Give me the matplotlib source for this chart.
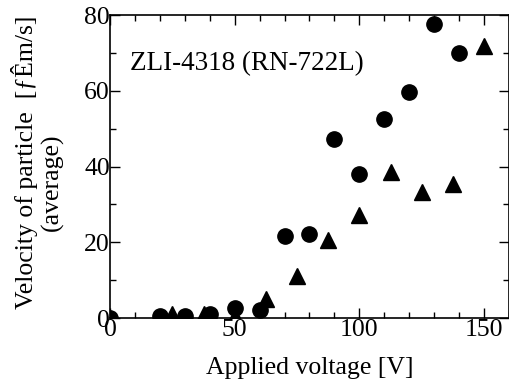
import matplotlib
matplotlib.use("Agg")
import matplotlib.pyplot as plt
from matplotlib.ticker import MultipleLocator

plt.rcParams["font.family"] = ["Liberation Serif", "DejaVu Serif"]

# circles
volt_circ = [0, 20, 30, 40, 50, 60, 70, 80, 90, 100, 110, 120, 130, 140]
vel_circ = [0, 0.6, 0.6, 1.1, 2.6, 2.2, 21.6, 22.2, 47.2, 37.9, 52.5, 59.7, 77.6, 70.1]

# triangles
volt_tri = [0, 25, 37.5, 50, 62.5, 75, 87.5, 100, 112.5, 125, 137.5, 150]
vel_tri = [0, 1.0, 1.0, 0.4, 5.0, 11.0, 20.5, 27.3, 38.5, 33.2, 35.5, 71.9]

fig = plt.figure(figsize=(5.1, 3.83), dpi=100)
ax = fig.add_axes([0.2157, 0.1697, 0.7823, 0.7911])

ax.plot(volt_tri, vel_tri, linestyle="none", marker="^", markersize=11, color="black")
ax.plot(volt_circ, vel_circ, linestyle="none", marker="o", markersize=11, color="black")

ax.set_xlim(0, 160)
ax.set_ylim(0, 80)
ax.xaxis.set_major_locator(MultipleLocator(50))
ax.xaxis.set_minor_locator(MultipleLocator(10))
ax.yaxis.set_major_locator(MultipleLocator(20))
ax.yaxis.set_minor_locator(MultipleLocator(10))
ax.tick_params(which="both", direction="in", top=True, right=True, labelsize=18.5, width=1)
ax.tick_params(which="major", length=7)
ax.tick_params(which="minor", length=4)
ax.tick_params(axis="x", which="major", pad=1)
ax.tick_params(axis="y", which="major", pad=0)
for sp in ax.spines.values():
    sp.set_linewidth(1.2)
for lab in ax.get_xticklabels() + ax.get_yticklabels():
    lab.set_clip_on(False)

ax.set_xlabel("Applied voltage [V]", fontsize=18.5, labelpad=11)
fig.text(0.049, 0.575, "Velocity of particle  [ƒÊm/s]", rotation=90,
         fontsize=18.5, ha="center", va="center")
fig.text(0.102, 0.525, "(average)", rotation=90, fontsize=18.5, ha="center", va="center")
ax.text(0.05, 0.84, "ZLI-4318 (RN-722L)", transform=ax.transAxes, fontsize=19.5,
        ha="left", va="center")

fig.savefig("out.png", dpi=100)
